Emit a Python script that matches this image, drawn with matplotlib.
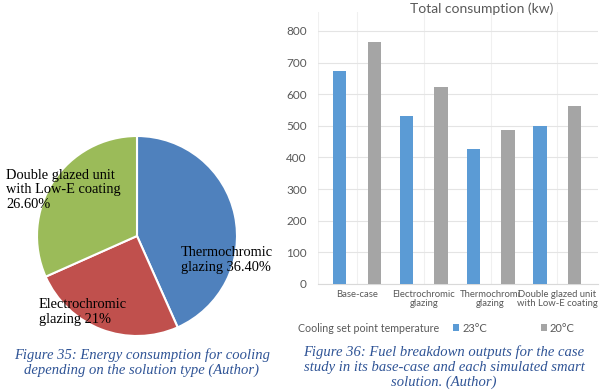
import numpy as np
import matplotlib
matplotlib.use("Agg")
import matplotlib.pyplot as plt

# pie data (percent shares as printed on the figure)
pie_labels = ["Thermochromic\nglazing 36.40%", "Electrochromic\nglazing 21%",
              "Double glazed unit\nwith Low-E coating\n26.60%"]
pie_values = [36.4, 21.0, 26.6]
pie_colors = ["#4F81BD", "#C0504D", "#9BBB59"]

# bar data (kw)
categories = ["Base-case", "Electrochromic\nglazing", "Thermochromi\nglazing",
              "Double glazed unit\nwith Low-E coating"]
temp_23 = [673, 531, 427, 499]
temp_20 = [765, 622, 487, 563]
yticks = [0, 100, 200, 300, 400, 500, 600, 700, 800]

W, H = 600, 392
fig = plt.figure(figsize=(6, 3.92), dpi=100)

def fx(px):
    return px / W

def fy(py):
    return 1 - py / H

# ---- pie chart (left) ----
ax1 = fig.add_axes([fx(37), fy(336), 200 / W, 200 / H])
ax1.pie(pie_values, colors=pie_colors, startangle=90, counterclock=False,
        wedgeprops=dict(edgecolor="white", linewidth=1.5))
ax1.set_xlim(-1, 1)
ax1.set_ylim(-1, 1)
ax1.set_aspect("equal")

def pdata(px, py):
    return (px - 137) / 100, (236 - py) / 100

serif = "Liberation Serif"
label_pos = [(181, 260), (39, 312), (6, 190)]
for lab, (px, py) in zip(pie_labels, label_pos):
    x, y = pdata(px, py)
    ax1.text(x, y, lab, ha="left", va="center", fontsize=10.4, family=serif,
             color="black", linespacing=1.2, clip_on=False)

fig.text(fx(142), fy(363), "Figure 35: Energy consumption for cooling\n"
         "depending on the solution type (Author)", ha="center", va="center",
         fontsize=10.5, family=serif, style="italic", color="#2F5496",
         linespacing=1.15)

# ---- bar chart (right) ----
sans = ["Lato", "DejaVu Sans"]
ax2 = fig.add_axes([fx(318), fy(284), 280 / W, 272 / H])
x = np.arange(len(categories))
w = 0.2
b1 = ax2.bar(x - 0.26, temp_23, w, color="#5B9BD5", label="23°C", zorder=3)
b2 = ax2.bar(x + 0.26, temp_20, w, color="#A5A5A5", label="20°C", zorder=3)
ax2.set_xlim(-0.585, 3.61)
ax2.set_ylim(0, 860)
ax2.set_yticks(yticks)
ax2.set_xticks(x)
ax2.set_xticklabels(categories, fontsize=6.8, color="#595959", family=sans,
                    linespacing=1.1)
for t in ax2.get_yticklabels():
    t.set_fontsize(8.5)
    t.set_color("#595959")
    t.set_family(sans)
ax2.tick_params(length=0, pad=8)
ax2.tick_params(axis="x", pad=4)
for s in ["top", "right", "left"]:
    ax2.spines[s].set_visible(False)
ax2.spines["bottom"].set_color("#D9D9D9")
ax2.grid(axis="y", color="#E4E4E4", linewidth=0.8, zorder=0)
ax2.grid(axis="x", color="#F0F0F0", linewidth=0.8, zorder=0)
# keep the upper edge of the vertical grid above 800
ax2.axvline(-0.585, color="#F0F0F0", linewidth=0.8, zorder=0)

fig.text(fx(482), fy(9), "Total consumption (kw)", ha="center", va="center",
         fontsize=10, color="#595959", family=sans)

fig.text(fx(298), fy(328), "Cooling set point temperature", ha="left",
         va="center", fontsize=7.7, color="#595959", family=sans)
leg = fig.legend(handles=[b1, b2], loc="center left",
                 bbox_to_anchor=(fx(453), fy(328)), ncol=2, frameon=False,
                 handlelength=0.55, handleheight=0.55, handletextpad=0.3,
                 columnspacing=4.8, borderpad=0, borderaxespad=0,
                 prop={"family": sans, "size": 8})
for t in leg.get_texts():
    t.set_color("#595959")

fig.text(fx(444), fy(367), "Figure 36: Fuel breakdown outputs for the case\n"
         "study in its base-case and each simulated smart\nsolution. (Author)",
         ha="center", va="center", fontsize=10.5, family=serif,
         style="italic", color="#2F5496", linespacing=1.15)

fig.savefig("out.png", dpi=100)
